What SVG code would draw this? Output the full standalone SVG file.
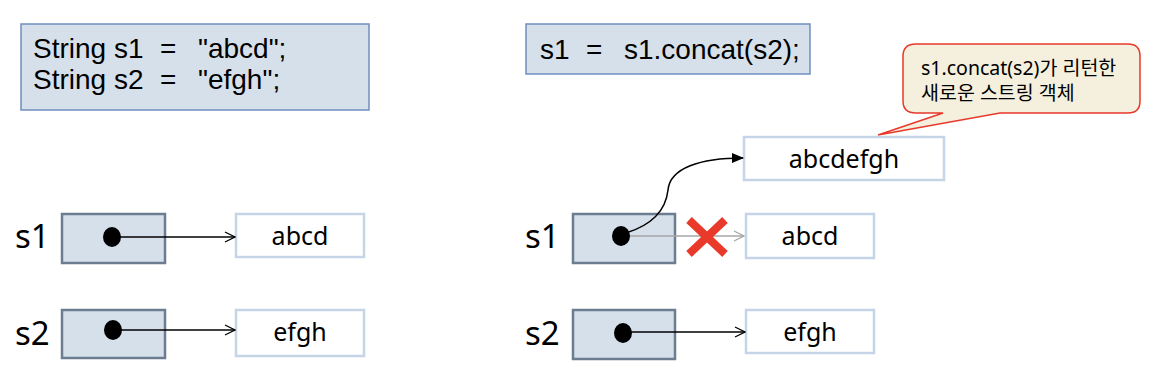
<svg xmlns="http://www.w3.org/2000/svg" width="1156" height="382" viewBox="0 0 1156 382">
<defs>
<style>
.t{font-family:"Noto Sans","Noto Sans CJK KR",sans-serif;fill:#000}
.c{font-family:"Liberation Sans",Arial,sans-serif;font-size:28px;fill:#000}
.code{fill:#d6e0eb;stroke:#6f8fc0;stroke-width:1.5}
.ref{fill:#d6e0eb;stroke:#6c7d90;stroke-width:2.5}
.val{fill:#fff;stroke:#c6d4e7;stroke-width:2.5}
.conn{fill:none;stroke:#000;stroke-width:1.5}
.lbl{font-size:33px}
.v{font-size:25px}
</style>
<marker id="open" viewBox="0 0 12 12" refX="11" refY="6" markerWidth="12" markerHeight="12" markerUnits="userSpaceOnUse" orient="auto">
<path d="M1,1 L11,6 L1,11" fill="none" stroke="#000" stroke-width="1.3"/>
</marker>
<marker id="openGray" viewBox="0 0 12 12" refX="11" refY="6" markerWidth="12" markerHeight="12" markerUnits="userSpaceOnUse" orient="auto">
<path d="M1,1 L11,6 L1,11" fill="none" stroke="#a6a6a6" stroke-width="1.3"/>
</marker>
<marker id="solid" viewBox="0 0 12 12" refX="11" refY="6" markerWidth="12" markerHeight="12" markerUnits="userSpaceOnUse" orient="auto">
<path d="M0,1 L12,6 L0,11 Z" fill="#000"/>
</marker>
</defs>
<rect width="1156" height="382" fill="#fff"/>

<g id="code-left">
<rect class="code" x="21" y="24" width="348" height="86"/>
<text class="c"><tspan x="33" y="57.5">String s1</tspan><tspan x="160" y="57.5">=</tspan><tspan x="198" y="57.5">"abcd";</tspan><tspan x="33" y="89">String s2</tspan><tspan x="160" y="89">=</tspan><tspan x="198" y="89">"efgh";</tspan></text>
</g>

<g id="code-right">
<rect class="code" x="526" y="24" width="284" height="50"/>
<text class="c"><tspan x="540" y="59">s1</tspan><tspan x="586" y="59">=</tspan><tspan x="624" y="59">s1.concat(s2);</tspan></text>
</g>

<g id="callout">
<path d="M916,44 H1128 Q1140,44 1140,56 V101 Q1140,113 1128,113 H1000 L878,135 L943,113 H916 Q903,113 903,101 V56 Q903,44 916,44 Z" fill="#f5efdd" stroke="#e8392a" stroke-width="1.5"/>
<text class="t" font-size="19.5"><tspan x="921" y="75">s1.concat(s2)가 리턴한</tspan><tspan x="921" y="100">새로운 스트링 객체</tspan></text>
</g>

<g id="label-s1-left"><text class="t lbl" x="15" y="248">s1</text></g>
<g id="label-s2-left"><text class="t lbl" x="15" y="345">s2</text></g>
<g id="label-s1-right"><text class="t lbl" x="525" y="248">s1</text></g>
<g id="label-s2-right"><text class="t lbl" x="525" y="345">s2</text></g>

<g id="ref-s1-left"><rect class="ref" x="62" y="214" width="103" height="49"/></g>
<g id="ref-s2-left"><rect class="ref" x="62" y="310" width="103" height="48"/></g>
<g id="ref-s1-right"><rect class="ref" x="573" y="214" width="102" height="49"/></g>
<g id="ref-s2-right"><rect class="ref" x="573" y="310" width="102" height="49"/></g>

<g id="val-abcd-left"><rect class="val" x="236" y="214" width="128" height="43"/><text class="t v" x="300" y="245" text-anchor="middle">abcd</text></g>
<g id="val-efgh-left"><rect class="val" x="236" y="310" width="128" height="46"/><text class="t v" x="300" y="341" text-anchor="middle">efgh</text></g>
<g id="val-abcd-right"><rect class="val" x="746" y="214" width="128" height="44"/><text class="t v" x="810" y="245" text-anchor="middle">abcd</text></g>
<g id="val-efgh-right"><rect class="val" x="746" y="310" width="128" height="43"/><text class="t v" x="810" y="341" text-anchor="middle">efgh</text></g>
<g id="val-abcdefgh"><rect class="val" x="744" y="137" width="200" height="43"/><text class="t v" x="844" y="168" text-anchor="middle">abcdefgh</text></g>

<g id="connectors">
<line class="conn" x1="112" y1="237" x2="235" y2="237" marker-end="url(#open)"/>
<line class="conn" x1="113" y1="330" x2="235" y2="330" marker-end="url(#open)"/>
<line x1="621" y1="236" x2="744" y2="236" stroke="#a6a6a6" stroke-width="1.5" marker-end="url(#openGray)"/>
<line class="conn" x1="623" y1="332" x2="745" y2="332" marker-end="url(#open)"/>
<path class="conn" d="M626,233 C655,224 666,208 668,190 C670,168 700,158 743,158" marker-end="url(#solid)"/>
</g>

<g id="dots">
<ellipse cx="112" cy="237" rx="9" ry="10" fill="#000"/>
<ellipse cx="113" cy="330" rx="9" ry="10" fill="#000"/>
<ellipse cx="621" cy="236" rx="9" ry="10" fill="#000"/>
<ellipse cx="623" cy="333" rx="9" ry="10" fill="#000"/>
</g>

<g id="cross" stroke="#e8392a" stroke-width="8">
<line x1="689" y1="220" x2="725" y2="254"/>
<line x1="725" y1="220" x2="689" y2="254"/>
</g>
</svg>
